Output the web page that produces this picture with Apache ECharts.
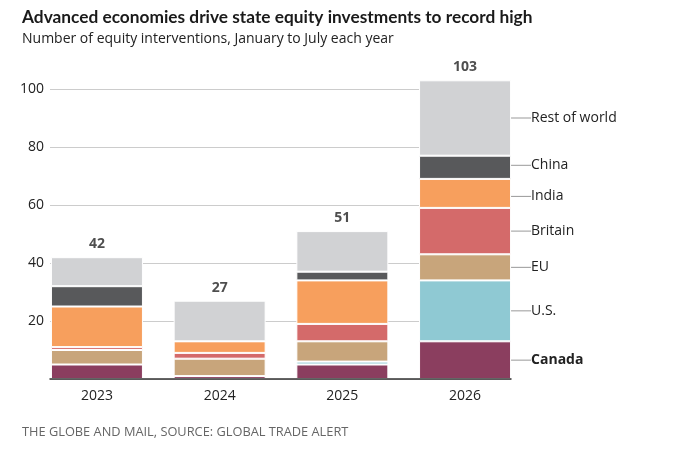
<!DOCTYPE html>
<html>
<head>
<meta charset="utf-8">
<script src="https://cdn.jsdelivr.net/npm/echarts@6/dist/echarts.min.js"></script>
<style>
  html, body { margin: 0; padding: 0; background: #fff; }
  #container { width: 682px; height: 457px; }
</style>
</head>
<body>
<div id="container"></div>
<script>
var years = ['2023', '2024', '2025', '2026'];
var canada = [5, 1, 5, 13];
var us = [0, 0, 1, 21];
var eu = [5, 6, 7, 9];
var britain = [1, 2, 6, 16];
var india = [14, 4, 15, 10];
var china = [7, 0, 3, 8];
var restOfWorld = [10, 14, 14, 26];
var yTicks = [20, 40, 60, 80, 100];

var font = 'Open Sans';
var groups = [
    { name: 'Canada', data: canada, color: '#8b3e5f', bold: true },
    { name: 'U.S.', data: us, color: '#8fc9d3' },
    { name: 'EU', data: eu, color: '#c8a57b' },
    { name: 'Britain', data: britain, color: '#d46a6a' },
    { name: 'India', data: india, color: '#f79f5d', dy: 3 },
    { name: 'China', data: china, color: '#58595b', dy: -2 },
    { name: 'Rest of world', data: restOfWorld, color: '#d1d2d4' }
];

var totals = years.map(function (y, i) {
    return groups.reduce(function (s, g) { return s + g.data[i]; }, 0);
});

var last = years.length - 1;
var series = groups.map(function (g) {
    return {
        name: g.name,
        type: 'bar',
        stack: 'all',
        xAxisIndex: 1,
        yAxisIndex: 1,
        barWidth: 92,
        clip: false,
        itemStyle: { color: g.color, borderColor: '#fff', borderWidth: 1 },
        labelLine: { show: true, lineStyle: { color: '#999', width: 1 } },
        labelLayout: function () {
            return { dy: g.dy || 0 };
        },
        data: g.data.map(function (v, i) {
            if (i !== last) return { value: v, label: { show: false } };
            return {
                value: v,
                label: {
                    show: true,
                    position: 'right',
                    distance: 16,
                    padding: [0, 0, 0, 4],
                    formatter: g.name,
                    color: '#222',
                    fontFamily: font,
                    fontSize: 14,
                    fontWeight: g.bold ? 'bold' : 'normal'
                }
            };
        })
    };
});

series.push({
    name: 'Total',
    type: 'scatter',
    xAxisIndex: 1,
    yAxisIndex: 1,
    symbolSize: 0,
    clip: false,
    label: {
        show: true,
        position: 'top',
        distance: 6,
        color: '#222',
        fontFamily: font,
        fontSize: 14,
        fontWeight: 'bold',
        formatter: function (p) { return p.value; }
    },
    data: totals
});

var dom = document.getElementById('container');
var myChart = echarts.init(dom);
var option = {
    animation: false,
    title: [
        {
            text: 'Advanced economies drive state equity investments to record high',
            left: 22, top: 9, padding: 0,
            textStyle: { fontFamily: 'Lato', fontSize: 17.3, fontWeight: 'bold', color: '#1a1a1a' }
        },
        {
            text: 'Number of equity interventions, January to July each year',
            left: 22, top: 32, padding: 0,
            textStyle: { fontFamily: font, fontSize: 14, fontWeight: 'normal', color: '#222' }
        },
        {
            text: 'THE GLOBE AND MAIL, SOURCE: GLOBAL TRADE ALERT',
            left: 22, top: 426, padding: 0,
            textStyle: { fontFamily: font, fontSize: 12.8, fontWeight: 'normal', color: '#666' }
        }
    ],
    grid: [
        { left: 50, right: 171, top: 89, bottom: 78 },
        { left: 35.6, right: 155.6, top: 89, bottom: 78 }
    ],
    xAxis: [
        {
            type: 'value', gridIndex: 0, min: 0, max: 1, z: 5,
            axisLine: { show: true, onZero: false, lineStyle: { color: '#333', width: 1.5 } },
            axisTick: { show: false }, axisLabel: { show: false }, splitLine: { show: false }
        },
        {
            type: 'category', gridIndex: 1, data: years,
            axisLine: { show: false }, axisTick: { show: false },
            axisLabel: { color: '#222', fontFamily: font, fontSize: 14, margin: 10 }
        }
    ],
    yAxis: [
        {
            type: 'value', gridIndex: 0, min: 0, max: 100, interval: 20,
            axisLine: { show: false }, axisTick: { show: false },
            axisLabel: {
                color: '#222', fontFamily: font, fontSize: 14, margin: 6,
                formatter: function (v) { return yTicks.indexOf(v) >= 0 ? v : ''; }
            },
            splitLine: { lineStyle: { color: '#ccc', width: 1 } }
        },
        {
            type: 'value', gridIndex: 1, min: 0, max: 100, interval: 20,
            axisLine: { show: false }, axisTick: { show: false },
            axisLabel: { show: false }, splitLine: { show: false }
        }
    ],
    series: series
};
myChart.setOption(option, true);
</script>
</body>
</html>
